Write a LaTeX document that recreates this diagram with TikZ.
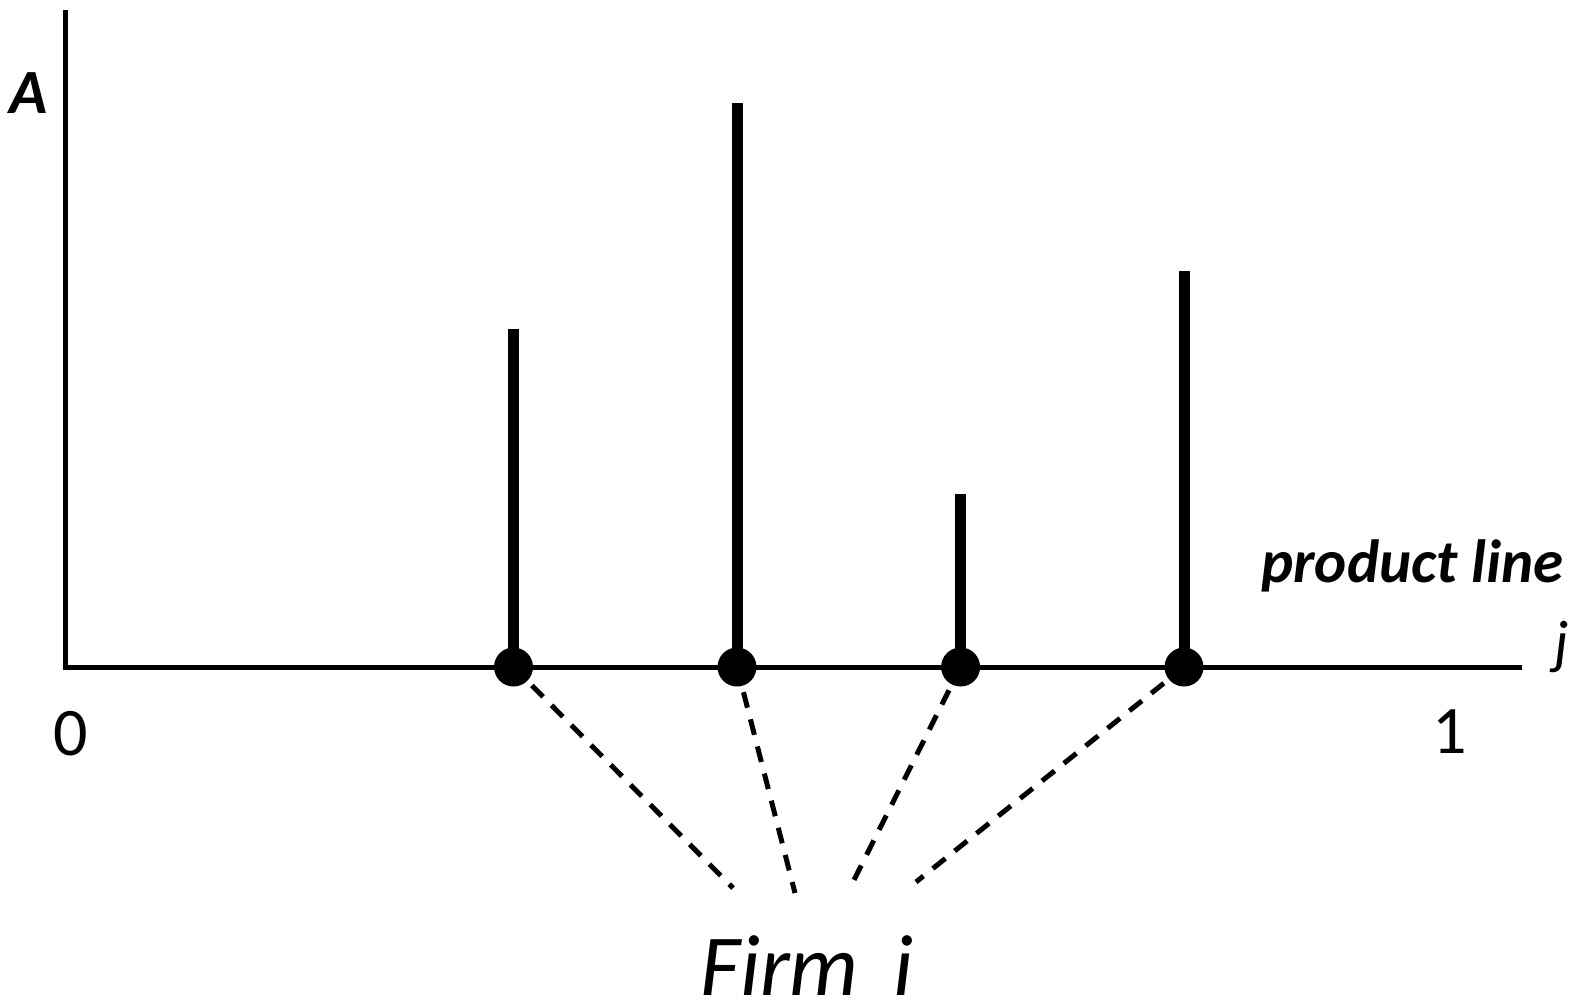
\documentclass[tikz,border=0pt]{standalone}
\usepackage{fontspec}
\setmainfont{Carlito}
\begin{document}
\begin{tikzpicture}[x=1pt,y=-1pt,
  axis/.style={line width=5pt},
  stem/.style={line width=11pt},
  dot/.style={circle,fill=black,inner sep=0pt,minimum size=39pt},
  link/.style={line width=5pt,dash pattern=on 16pt off 12pt,shorten <=26pt},
  lbl/.style={inner sep=0pt,anchor=base west}]
\useasboundingbox (0,0) rectangle (1579,1001);
% axes
\coordinate (top) at (65,10);
\coordinate (orig) at (65,667);
\coordinate (xend) at (1522,667);
\draw[axis] (top) -- (orig) -- (xend);
% stems and dots
\foreach \n/\x/\h in {a/513.5/329, b/737/103, c/960.6/494, d/1184/271}{
  \coordinate (\n top) at (\x,\h);
  \node[dot] (\n) at (\x,667) {};
  \draw[stem] (\n top) -- (\n.center);
}
% firm
\node[lbl,font=\fontsize{87}{92}\selectfont\itshape] (firm) at (700,995) {Firm\hspace{0.4em}i};
\coordinate (fa) at (733,888);
\coordinate (fb) at (795,893);
\coordinate (fc) at (851,886);
\coordinate (fd) at (916,882);
\draw[link] (a.center) -- (fa);
\draw[link] (b.center) -- (fb);
\draw[link] (c.center) -- (fc);
\draw[link] (d.center) -- (fd);
% labels
\node[lbl,font=\fontsize{63}{66}\selectfont\bfseries\itshape] (A) at (9,113) {A};
\node[lbl,font=\fontsize{68}{72}\selectfont] (zero) at (53,755) {0};
\node[lbl,font=\fontsize{68}{72}\selectfont] (one) at (1432,753) {1};
\node[lbl,font=\fontsize{60}{64}\selectfont\itshape] (j) at (1554,662) {j};
\node[lbl,font=\fontsize{61}{64}\selectfont\bfseries\itshape] (pl) at (1261,582) {product line};
\end{tikzpicture}
\end{document}
